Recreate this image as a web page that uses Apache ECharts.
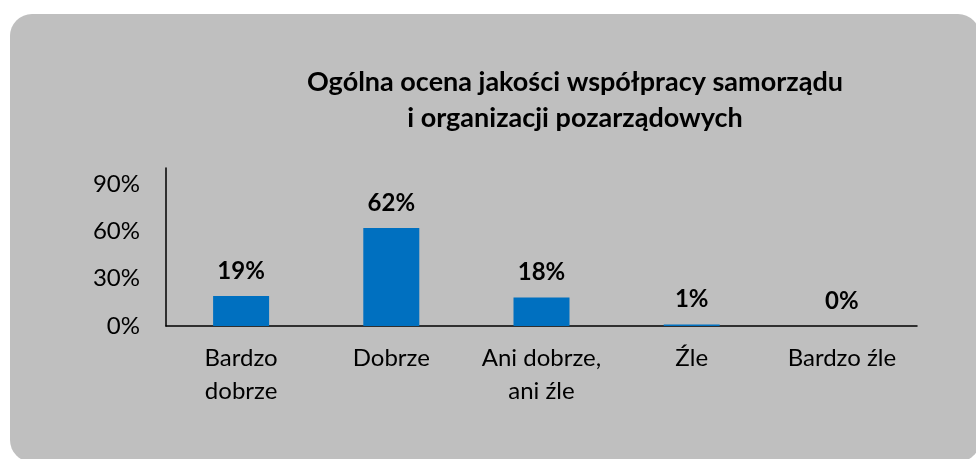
<!DOCTYPE html>
<html><head><meta charset="utf-8">
<script src="https://cdn.jsdelivr.net/npm/echarts@6/dist/echarts.min.js"></script>
<style>html,body{margin:0;padding:0;background:#fff}#c{width:976px;height:459px}</style>
</head><body><div id="c"></div>
<script>
const titleText = 'Ogólna ocena jakości współpracy samorządu\ni organizacji pozarządowych';
const categories = ['Bardzo\ndobrze', 'Dobrze', 'Ani dobrze,\nani źle', 'Źle', 'Bardzo źle'];
const values = [19, 62, 18, 1, 0];
const yTicks = [0, 30, 60, 90];

const chart = echarts.init(document.getElementById('c'));
const font = 'Lato, "Open Sans", sans-serif';
chart.setOption({
  backgroundColor: '#ffffff',
  animation: false,
  graphic: [{
    type: 'rect', z: -10, silent: true,
    shape: { x: 10, y: 14, width: 970, height: 448, r: 22 },
    style: { fill: '#bfbfbf' }
  }],
  title: {
    text: titleText, left: 570, top: 59, textAlign: 'center',
    textStyle: { fontFamily: font, fontSize: 27, fontWeight: 'bold', color: '#000', lineHeight: 36 }
  },
  grid: { left: 166, right: 59, top: 168, bottom: 133, containLabel: false },
  xAxis: {
    type: 'category', data: categories,
    axisLine: { lineStyle: { color: '#000', width: 1.5 } },
    axisTick: { show: false },
    axisLabel: { fontFamily: font, fontSize: 24, color: '#000', lineHeight: 33, margin: 16, interval: 0 }
  },
  yAxis: {
    type: 'value', min: 0, max: 100, interval: 30,
    splitLine: { show: false },
    axisLine: { show: true, lineStyle: { color: '#000', width: 1.5 } },
    axisTick: { show: false },
    axisLabel: {
      fontFamily: font, fontSize: 24, color: '#000', margin: 26, showMaxLabel: false,
      formatter: v => yTicks.includes(v) ? v + '%' : ''
    }
  },
  series: [{
    type: 'bar', data: values, barWidth: 56,
    itemStyle: { color: '#0070c0' },
    label: {
      show: true, position: 'top', distance: 13,
      fontFamily: font, fontSize: 24, fontWeight: 'bold', color: '#000',
      formatter: p => p.value + '%'
    }
  }]
});
</script></body></html>
